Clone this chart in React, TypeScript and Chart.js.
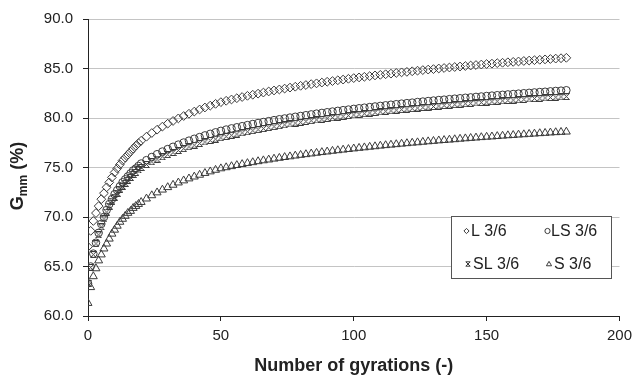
import React, { useEffect, useRef } from "react";
import { Chart, registerables } from "chart.js";

Chart.register(...registerables);

const gyrations = [
  0, 1, 2, 3, 4, 5, 6, 7, 8, 9, 10, 11, 12, 13, 14, 15, 16, 17, 18, 19, 20,
  22, 24, 26, 28, 30, 32, 34, 36, 38, 40, 42, 44, 46, 48, 50,
  52, 54, 56, 58, 60, 62, 64, 66, 68, 70, 72, 74, 76, 78, 80, 82, 84, 86, 88, 90,
  92, 94, 96, 98, 100, 102, 104, 106, 108, 110, 112, 114, 116, 118, 120, 122, 124, 126, 128, 130,
  132, 134, 136, 138, 140, 142, 144, 146, 148, 150, 152, 154, 156, 158, 160, 162, 164, 166, 168, 170,
  172, 174, 176, 178, 180,
];

const seriesL = [
  67.0, 68.6, 69.6, 70.4, 71.1, 71.8, 72.4, 73.0, 73.5, 74.0, 74.5, 74.9, 75.3, 75.7, 76.0, 76.3, 76.6, 76.9, 77.2, 77.45, 77.7,
  78.11, 78.48, 78.82, 79.13, 79.43, 79.7, 79.96, 80.2, 80.43, 80.65, 80.86, 81.06, 81.25, 81.43, 81.6,
  81.74, 81.87, 82.0, 82.12, 82.24, 82.35, 82.46, 82.57, 82.68, 82.78, 82.88, 82.97, 83.07, 83.16, 83.25, 83.33, 83.42, 83.5, 83.58, 83.66,
  83.73, 83.81, 83.88, 83.96, 84.03, 84.1, 84.16, 84.23, 84.3, 84.36, 84.42, 84.48, 84.55, 84.61, 84.66, 84.72, 84.78, 84.84, 84.89, 84.94,
  85.0, 85.05, 85.1, 85.15, 85.2, 85.25, 85.3, 85.35, 85.4, 85.45, 85.49, 85.54, 85.58, 85.63, 85.67, 85.71, 85.76, 85.8, 85.84, 85.88,
  85.92, 85.96, 86.0, 86.04, 86.08,
];

const seriesLS = [
  63.3, 65.0, 66.3, 67.4, 68.4, 69.3, 70.0, 70.7, 71.3, 71.8, 72.3, 72.7, 73.1, 73.5, 73.8, 74.1, 74.4, 74.7, 74.9, 75.15, 75.4,
  75.74, 76.06, 76.34, 76.61, 76.86, 77.09, 77.31, 77.52, 77.71, 77.9, 78.07, 78.24, 78.4, 78.55, 78.7,
  78.83, 78.95, 79.06, 79.17, 79.28, 79.39, 79.49, 79.59, 79.68, 79.78, 79.87, 79.95, 80.04, 80.12, 80.2, 80.28, 80.36, 80.44, 80.51, 80.58,
  80.65, 80.72, 80.79, 80.85, 80.92, 80.98, 81.04, 81.1, 81.16, 81.22, 81.28, 81.34, 81.39, 81.45, 81.5, 81.55, 81.61, 81.66, 81.71, 81.76,
  81.81, 81.85, 81.9, 81.95, 81.99, 82.04, 82.08, 82.13, 82.17, 82.22, 82.26, 82.3, 82.34, 82.38, 82.42, 82.46, 82.5, 82.54, 82.58, 82.62,
  82.65, 82.69, 82.73, 82.76, 82.8,
];

const seriesSL = [
  63.3, 64.9, 66.2, 67.3, 68.2, 69.0, 69.8, 70.5, 71.1, 71.6, 72.0, 72.4, 72.8, 73.1, 73.4, 73.7, 74.0, 74.3, 74.5, 74.75, 75.0,
  75.3, 75.58, 75.84, 76.08, 76.31, 76.52, 76.72, 76.91, 77.09, 77.26, 77.42, 77.58, 77.73, 77.87, 78.0,
  78.13, 78.26, 78.38, 78.5, 78.61, 78.72, 78.83, 78.93, 79.03, 79.13, 79.22, 79.31, 79.4, 79.49, 79.57, 79.65, 79.73, 79.81, 79.88, 79.96,
  80.03, 80.1, 80.17, 80.24, 80.31, 80.37, 80.43, 80.5, 80.56, 80.62, 80.68, 80.73, 80.79, 80.85, 80.9, 80.95, 81.01, 81.06, 81.11, 81.16,
  81.21, 81.26, 81.3, 81.35, 81.39, 81.44, 81.48, 81.52, 81.56, 81.61, 81.65, 81.69, 81.73, 81.77, 81.81, 81.84, 81.88, 81.92, 81.96, 81.99,
  82.03, 82.07, 82.1, 82.14, 82.17,
];

const seriesS = [
  61.3, 62.9, 64.0, 64.8, 65.6, 66.2, 66.8, 67.3, 67.8, 68.3, 68.7, 69.1, 69.5, 69.8, 70.1, 70.4, 70.6, 70.9, 71.1, 71.3, 71.5,
  71.85, 72.18, 72.47, 72.75, 73.0, 73.24, 73.47, 73.68, 73.88, 74.07, 74.25, 74.43, 74.59, 74.75, 74.9,
  75.01, 75.12, 75.23, 75.33, 75.43, 75.52, 75.62, 75.71, 75.79, 75.88, 75.96, 76.04, 76.11, 76.19, 76.26, 76.33, 76.4, 76.47, 76.54, 76.6,
  76.67, 76.73, 76.79, 76.85, 76.91, 76.97, 77.02, 77.08, 77.13, 77.19, 77.24, 77.29, 77.34, 77.39, 77.44, 77.49, 77.53, 77.58, 77.63, 77.67,
  77.72, 77.76, 77.8, 77.84, 77.89, 77.93, 77.97, 78.01, 78.05, 78.09, 78.12, 78.16, 78.2, 78.24, 78.27, 78.31, 78.34, 78.38, 78.41, 78.45,
  78.48, 78.52, 78.55, 78.58, 78.61,
];

const seriesNames = ["L 3/6", "LS 3/6", "SL 3/6", "S 3/6"];
const xTitle = "Number of gyrations (-)";
const yTitleMain = "G";
const yTitleSub = "mm";
const yTitleTail = " (%)";

const FONT = "'Liberation Sans', Arial, sans-serif";
const MARK = "#3a3a3a";

function makeHourglass(size: number) {
  const c = document.createElement("canvas");
  c.width = size;
  c.height = size;
  const g = c.getContext("2d")!;
  g.strokeStyle = MARK;
  g.lineWidth = 1;
  const a = 0.5, b = size - 0.5;
  g.beginPath();
  g.moveTo(a, a); g.lineTo(b, b);
  g.moveTo(b, a); g.lineTo(a, b);
  g.moveTo(a, a); g.lineTo(b, a);
  g.moveTo(a, b); g.lineTo(b, b);
  g.stroke();
  return c;
}

function drawMarker(ctx: CanvasRenderingContext2D, kind: string, x: number, y: number, r: number) {
  ctx.save();
  ctx.strokeStyle = MARK;
  ctx.lineWidth = 1;
  ctx.beginPath();
  if (kind === "diamond") {
    ctx.moveTo(x - r, y); ctx.lineTo(x, y - r); ctx.lineTo(x + r, y); ctx.lineTo(x, y + r); ctx.closePath();
  } else if (kind === "circle") {
    ctx.arc(x, y, r, 0, Math.PI * 2);
  } else if (kind === "triangle") {
    const h = r * 1.7;
    ctx.moveTo(x, y - h * 0.6); ctx.lineTo(x + r, y + h * 0.4); ctx.lineTo(x - r, y + h * 0.4); ctx.closePath();
  } else {
    ctx.moveTo(x - r, y - r); ctx.lineTo(x + r, y + r);
    ctx.moveTo(x + r, y - r); ctx.lineTo(x - r, y + r);
    ctx.moveTo(x - r, y - r); ctx.lineTo(x + r, y - r);
    ctx.moveTo(x - r, y + r); ctx.lineTo(x + r, y + r);
  }
  ctx.stroke();
  ctx.restore();
}

export default function App() {
  const ref = useRef<HTMLCanvasElement | null>(null);

  useEffect(() => {
    const canvas = ref.current!;
    const pts = (ys: number[]) => gyrations.map((x, i) => ({ x, y: ys[i] }));
    const hourglass = makeHourglass(7);

    const overlay = {
      id: "overlay",
      afterDraw(chart: any) {
        const ctx: CanvasRenderingContext2D = chart.ctx;
        const area = chart.chartArea;
        ctx.save();
        const bx = 451, by = 216, bw = 161, bh = 63;
        ctx.fillStyle = "#ffffff";
        ctx.fillRect(bx, by, bw, bh);
        ctx.strokeStyle = "#555555";
        ctx.lineWidth = 1;
        ctx.strokeRect(bx + 0.5, by + 0.5, bw - 1, bh - 1);
        const kinds = ["diamond", "circle", "hourglass", "triangle"];
        const items = [
          { mx: 466.5, tx: 471, y: 231 },
          { mx: 547.5, tx: 551, y: 231 },
          { mx: 468, tx: 473, y: 264 },
          { mx: 549, tx: 554, y: 264 },
        ];
        ctx.font = `16px ${FONT}`;
        ctx.textBaseline = "middle";
        ctx.textAlign = "left";
        items.forEach((it, i) => {
          drawMarker(ctx, kinds[i], it.mx, it.y, kinds[i] === "hourglass" ? 2.2 : 2.6);
          ctx.fillStyle = "#222222";
          ctx.fillText(seriesNames[i], it.tx, it.y + 1);
        });
        ctx.font = `bold 18px ${FONT}`;
        ctx.textAlign = "center";
        ctx.textBaseline = "middle";
        ctx.fillStyle = "#222222";
        ctx.fillText(xTitle, (area.left + area.right) / 2, 366);
        ctx.translate(17, 176);
        ctx.rotate(-Math.PI / 2);
        const big = `bold 18px ${FONT}`;
        const small = `bold 12px ${FONT}`;
        ctx.font = big;
        const w1 = ctx.measureText(yTitleMain).width;
        const w3 = ctx.measureText(yTitleTail).width;
        ctx.font = small;
        const w2 = ctx.measureText(yTitleSub).width;
        const x0 = -(w1 + w2 + w3) / 2;
        ctx.textAlign = "left";
        ctx.textBaseline = "alphabetic";
        ctx.font = big;
        ctx.fillText(yTitleMain, x0, 6);
        ctx.font = small;
        ctx.fillText(yTitleSub, x0 + w1, 10);
        ctx.font = big;
        ctx.fillText(yTitleTail, x0 + w1 + w2, 6);
        ctx.restore();
      },
    };

    const chart = new Chart(canvas, {
      type: "scatter",
      data: {
        datasets: [
          { label: seriesNames[0], data: pts(seriesL), pointStyle: "rectRot", pointRadius: 4.4, borderColor: MARK, backgroundColor: "rgba(0,0,0,0)", borderWidth: 1 },
          { label: seriesNames[1], data: pts(seriesLS), pointStyle: "circle", pointRadius: 3.8, borderColor: MARK, backgroundColor: "rgba(0,0,0,0)", borderWidth: 1 },
          { label: seriesNames[2], data: pts(seriesSL), pointStyle: hourglass as any, pointRadius: 3.5, borderColor: MARK, backgroundColor: "rgba(0,0,0,0)", borderWidth: 1 },
          { label: seriesNames[3], data: pts(seriesS), pointStyle: "triangle", pointRadius: 4.6, borderColor: MARK, backgroundColor: "rgba(0,0,0,0)", borderWidth: 1 },
        ],
      },
      options: {
        responsive: false,
        animation: false,
        events: [],
        layout: { padding: { top: 16, right: 11, left: 0, bottom: 0 } },
        plugins: { legend: { display: false }, tooltip: { enabled: false } },
        scales: {
          x: {
            type: "linear",
            min: 0,
            max: 200,
            ticks: { stepSize: 50, font: { family: FONT, size: 15 }, color: "#222222", padding: 6 },
            grid: { drawOnChartArea: false, drawTicks: true, tickLength: 5, tickColor: "#222222", color: "#222222" },
            border: { color: "#222222", width: 1 },
            afterFit: (s: any) => { s.height = 62; },
          },
          y: {
            min: 60,
            max: 90,
            ticks: {
              stepSize: 5,
              font: { family: FONT, size: 15 },
              color: "#222222",
              padding: 10,
              callback: (v: any) => Number(v).toFixed(1),
            },
            grid: { color: "#c4c4c4", tickColor: "#222222", tickLength: 5, lineWidth: 1 },
            border: { color: "#222222", width: 1 },
            afterFit: (s: any) => { s.width = 88; },
          },
        },
      },
      plugins: [overlay],
    });
    return () => chart.destroy();
  }, []);

  return (
    <div style={{ position: "fixed", left: 0, top: 0, width: 638, height: 378, background: "#fff" }}>
      <canvas ref={ref} width={638} height={378} style={{ width: 638, height: 378 }} />
    </div>
  );
}
